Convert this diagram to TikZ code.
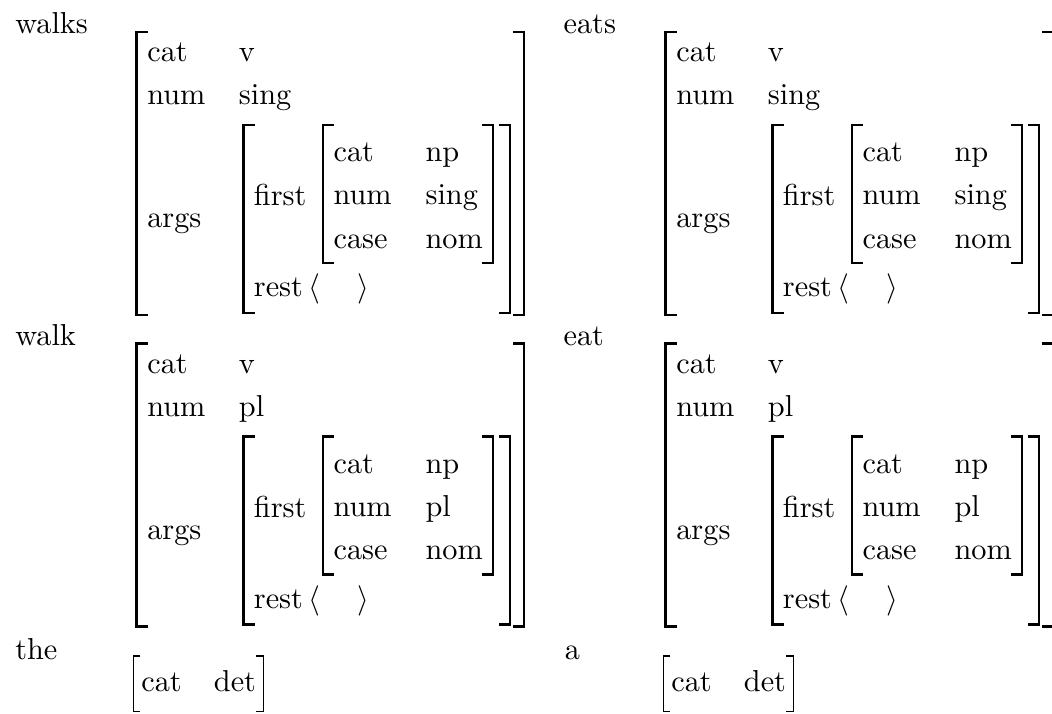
\documentclass[tikz,border=0pt]{standalone}
\tikzset{
  txt/.style={inner sep=0pt, anchor=base west},
  brk/.style={line width=0.72pt, line join=miter, line cap=rect},
  sbrk/.style={line width=0.45pt, line join=miter},
}
\newcommand\Lbrk[4][brk]{\draw[#1] ({#2+10},#3) -- (#2,#3) -- (#2,#4) -- ({#2+10},#4);}
\newcommand\Rbrk[4][brk]{\draw[#1] ({#2-10},#3) -- (#2,#3) -- (#2,#4) -- ({#2-10},#4);}
\newcommand\FeatStruct[2]{%
  \Lbrk{136.5}{32}{315}\Rbrk{524}{32}{315}
  \node[txt] (#1cat)  at (146.7,62)  {cat};
  \node[txt] (#1catv) at (238.3,62)  {v};
  \node[txt] (#1num)  at (146.7,105) {num};
  \node[txt] (#1numv) at (238.3,105) {#2};
  \node[txt] (#1args) at (146.7,228) {args};
  \Lbrk{243.5}{125}{313}\Rbrk{510}{125}{313}
  \node[txt] (#1first) at (253.3,206) {first};
  \Lbrk{322.7}{125}{263}\Rbrk{493.3}{125}{263}
  \node[txt] (#1icat)  at (333,161.5) {cat};
  \node[txt] (#1icatv) at (425,161.5) {np};
  \node[txt] (#1inum)  at (333,205)   {num};
  \node[txt] (#1inumv) at (425,205)   {#2};
  \node[txt] (#1icase) at (333,248)   {case};
  \node[txt] (#1icasev) at (425,248)  {nom};
  \node[txt] (#1rest) at (253.3,296.7) {rest};
  \node[txt] (#1lang) at (308,296.7) {$\langle$};
  \node[txt] (#1rang) at (357,296.7) {$\rangle$};
}
\newcommand\DetStruct[1]{%
  \draw[sbrk] (140.3,656) -- (133.3,656) -- (133.3,711.7) -- (140.3,711.7);
  \node[txt] (#1cat) at (140.7,691.7) {cat};
  \node[txt] (#1det) at (213.3,691.7) {det};
  \draw[sbrk] (256.3,656) -- (263.3,656) -- (263.3,711.7) -- (256.3,711.7);
}
\begin{document}
\begin{tikzpicture}[x=0.33pt,y=-0.33pt]
\useasboundingbox (0,0) rectangle (1052,713);
% labels
\node[txt] (lwalks) at (14.7,34)  {walks};
\node[txt] (leats)  at (563,34)   {eats};
\node[txt] (lwalk)  at (14.7,345.5) {walk};
\node[txt] (leat)   at (563,345.5)  {eat};
\node[txt] (lthe)   at (14.7,659) {the};
\node[txt] (la)     at (564.3,659) {a};
% structures
\begin{scope}\FeatStruct{walks}{sing}\end{scope}
\begin{scope}[shift={(529,0)}]\FeatStruct{eats}{sing}\end{scope}
\begin{scope}[shift={(0,311.5)}]\FeatStruct{walk}{pl}\end{scope}
\begin{scope}[shift={(529,311.5)}]\FeatStruct{eat}{pl}\end{scope}
\begin{scope}\DetStruct{the}\end{scope}
\begin{scope}[shift={(530,0)}]\DetStruct{a}\end{scope}
\end{tikzpicture}
\end{document}
